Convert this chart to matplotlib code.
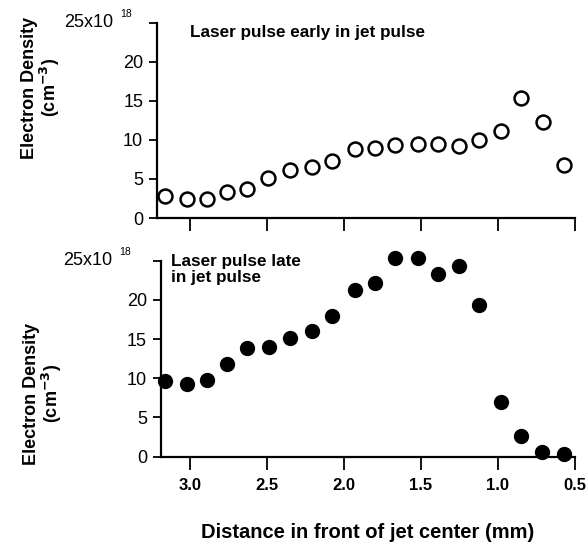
import matplotlib.pyplot as plt

plt.rcParams['font.family'] = ['Liberation Sans', 'DejaVu Sans']

# distance in front of jet center (mm)
dist_early = [3.16, 3.02, 2.89, 2.76, 2.63, 2.49, 2.35, 2.21, 2.08, 1.93,
              1.80, 1.67, 1.52, 1.39, 1.25, 1.12, 0.98, 0.85, 0.71, 0.57]
dens_early = [2.8, 2.4, 2.4, 3.3, 3.7, 5.1, 6.1, 6.5, 7.3, 8.8,
              8.9, 9.4, 9.5, 9.5, 9.2, 10.0, 11.2, 15.3, 12.3, 6.8]

dist_late = [3.16, 3.02, 2.89, 2.76, 2.63, 2.49, 2.35, 2.21, 2.08, 1.93,
             1.80, 1.67, 1.52, 1.39, 1.25, 1.12, 0.98, 0.85, 0.71, 0.57]
dens_late = [9.7, 9.3, 9.8, 11.8, 13.9, 14.0, 15.1, 16.0, 18.0, 21.3,
             22.1, 25.3, 25.3, 23.3, 24.3, 19.3, 7.0, 2.7, 0.6, 0.3]

yticks = [0, 5, 10, 15, 20, 25]
ytick_labels = ['0', '5', '10', '15', '20', '']
xticks = [3.0, 2.5, 2.0, 1.5, 1.0, 0.5]
xtick_labels = ['3.0', '2.5', '2.0', '1.5', '1.0', '0.5']

fig = plt.figure(figsize=(5.87, 5.46), dpi=100)
ax1 = fig.add_axes([0.2675, 0.6007, 0.712, 0.3577])
ax2 = fig.add_axes([0.274, 0.1636, 0.705, 0.359])


def style_axis(ax, xleft, top_x, exp_x, label_x, label_y):
    ax.set_xlim(xleft, 0.5)
    ax.set_ylim(0, 25)
    for s in ['top', 'right']:
        ax.spines[s].set_visible(False)
    for s in ['left', 'bottom']:
        ax.spines[s].set_linewidth(1.6)
    ax.set_yticks(yticks)
    ax.set_yticklabels(ytick_labels, fontsize=13)
    ax.set_xticks(xticks)
    ax.tick_params(axis='y', direction='out', length=6, width=1.3, pad=4)
    ax.tick_params(axis='x', direction='out', length=9, width=1.3, pad=6)
    # top tick label with its exponent
    ax.text(top_x, 1.0, '25x10', fontsize=13, ha='right', va='center',
            transform=ax.transAxes)
    ax.text(exp_x, 1.045, '18', fontsize=7.5, ha='left', va='center',
            transform=ax.transAxes)
    ax.set_ylabel('Electron Density\n(cm$^{\\mathbf{-3}}$)', fontsize=13,
                  fontweight='bold', linespacing=1.0)
    ax.yaxis.set_label_coords(label_x, label_y)


style_axis(ax1, 3.213, -0.105, -0.088, -0.227, 0.667)
style_axis(ax2, 3.19, -0.118, -0.101, -0.234, 0.32)

ax1.set_xticklabels([])
ax2.set_xticklabels(xtick_labels, fontsize=12, fontweight='bold')

ax1.plot(dist_early, dens_early, 'o', markersize=10, markerfacecolor='white',
         markeredgecolor='black', markeredgewidth=1.8, clip_on=False)
ax2.plot(dist_late, dens_late, 'o', markersize=10, color='black', clip_on=False)

ax1.text(0.08, 0.95, 'Laser pulse early in jet pulse', transform=ax1.transAxes,
         fontsize=12.3, fontweight='bold', va='center')
ax2.text(0.025, 1.035, 'Laser pulse late\nin jet pulse', transform=ax2.transAxes,
         fontsize=12.3, fontweight='bold', va='top', linespacing=1.1)

ax2.set_xlabel('Distance in front of jet center (mm)', fontsize=14.5,
               fontweight='bold', labelpad=22)

fig.savefig('out.png', dpi=100)
